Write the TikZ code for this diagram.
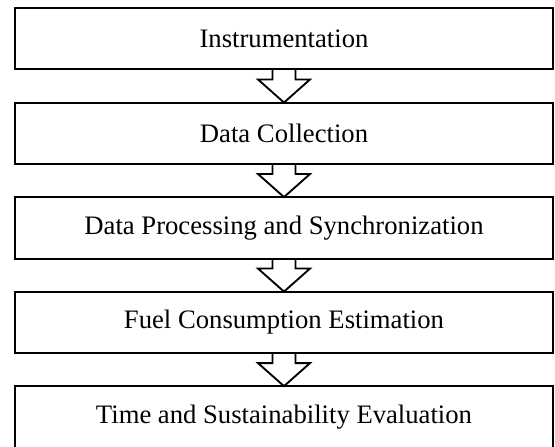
\documentclass[tikz,border=0pt]{standalone}
\usepackage{fontspec}
\setmainfont{Liberation Serif}
\usetikzlibrary{positioning, calc}

\begin{document}
\begin{tikzpicture}[
    every node/.style={font=\fontsize{20}{24}\selectfont},
    stage/.style={draw, line width=1.5pt, minimum width=403.5pt, minimum height=46.1pt,
                  inner sep=0pt, outer sep=0pt},
    flowarrow/.style={draw, line width=1.4pt, line join=miter},
    node distance=24.8pt
]
\useasboundingbox (0,0) rectangle (416.25pt,-334.5pt);
% five stages stacked top to bottom
\node[stage] (inst) at (213pt,-29.06pt) {Instrumentation};
\node[stage, below=of inst] (coll) {Data Collection};
\node[stage, below=of coll] (proc) {Data Processing and Synchronization};
\node[stage, below=of proc] (fuel) {Fuel Consumption Estimation};
\node[stage, below=of fuel] (eval) {Time and Sustainability Evaluation};
% hollow block arrows between stages
\foreach \s/\t in {inst/coll, coll/proc, proc/fuel, fuel/eval}
  \draw[flowarrow] ($(\s.south)+(-8.6pt,0)$) -- ++(0,-7.5pt) -- ++(-10.9pt,0)
    -- (\t.north) -- ($(\s.south)+(19.5pt,-7.5pt)$) -- ++(-10.9pt,0) -- ++(0,7.5pt);
\end{tikzpicture}
\end{document}
